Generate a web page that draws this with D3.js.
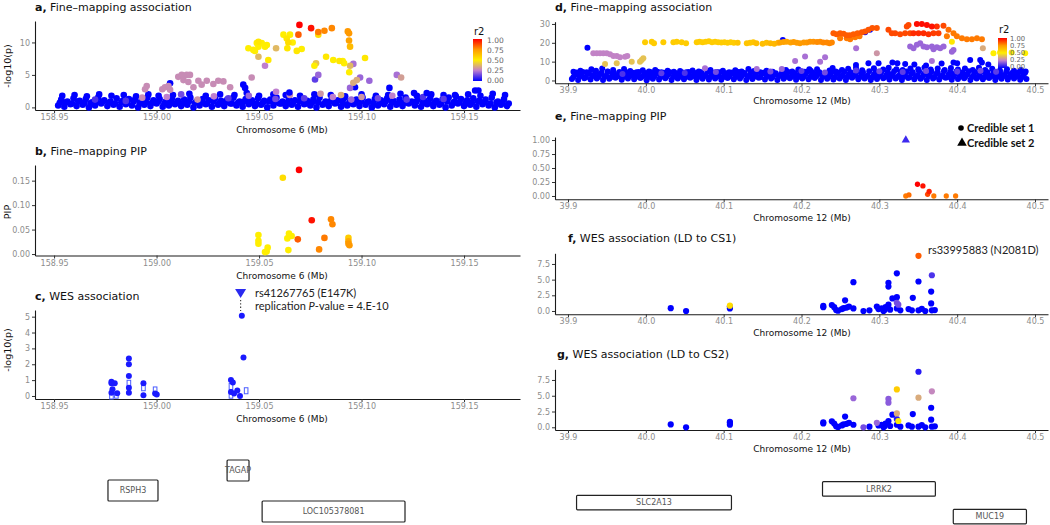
<!DOCTYPE html>
<html><head><meta charset="utf-8">
<script src="https://cdn.jsdelivr.net/npm/d3@7"></script>
<style>body{margin:0;background:#fff}svg{display:block}</style>
</head><body><svg id="c" width="1050" height="525"></svg>
<script>
// ---------------- DATA ----------------
const xTicks6 = [158.95, 159.00, 159.05, 159.10, 159.15];
const xTicks12 = [39.9, 40.0, 40.1, 40.2, 40.3, 40.4, 40.5];
const yTicksA = [0, 5, 10];
const yTicksB = [0, 0.05, 0.10, 0.15];
const yTicksC = [0, 1, 2, 3, 4, 5];
const yTicksD = [0, 10, 20, 30];
const yTicksE = [0, 0.25, 0.5, 0.75, 1];
const yTicksFG = [0, 2.5, 5, 7.5];
const legendTicks = [0, 0.25, 0.5, 0.75, 1];
const r2Stops = [0, 0.25, 0.5, 0.75, 1];
const r2Colors = ["#0000ff", "#bf7fce", "#ffee00", "#ff9900", "#ff0000"];

const panelTitles = [
  {id: "a,", text: "Fine–mapping association"},
  {id: "b,", text: "Fine–mapping PIP"},
  {id: "c,", text: "WES association"},
  {id: "d,", text: "Fine–mapping association"},
  {id: "e,", text: "Fine–mapping PIP"},
  {id: "f,", text: "WES association (LD to CS1)"},
  {id: "g,", text: "WES association (LD to CS2)"}
];
const xTitle6 = "Chromosome 6 (Mb)";
const xTitle12 = "Chromosome 12 (Mb)";

// panel a: dense background band (r2 ~ 0)  [pos, -log10p]
const bandA = [
[158.952,.3],[158.955,.1],[158.958,.5],[158.961,.2],[158.964,.4],[158.967,0],[158.970,.3],[158.973,.6],[158.976,.2],[158.979,.4],[158.982,.1],[158.985,.5],[158.988,.3],[158.991,0],[158.994,.4],[158.997,.2],[159.000,.6],[159.003,.1],[159.006,.3],[159.009,.5],[159.012,.2],[159.015,.4],[159.018,0],[159.021,.3],[159.024,.5],[159.027,.1],[159.030,.4],[159.033,.2],[159.036,.6],[159.039,.3],[159.042,.1],[159.045,.5],[159.048,.2],[159.051,.4],[159.054,0],[159.057,.3],[159.060,.6],[159.063,.2],[159.066,.4],[159.069,.1],[159.072,.5],[159.075,.3],[159.078,0],[159.081,.4],[159.084,.2],[159.087,.6],[159.090,.1],[159.093,.3],[159.096,.5],[159.099,.2],[159.102,.4],[159.105,0],[159.108,.3],[159.111,.5],[159.114,.1],[159.117,.4],[159.120,.2],[159.123,.6],[159.126,.3],[159.129,.1],[159.132,.5],[159.135,.2],[159.138,.4],[159.141,0],[159.144,.3],[159.147,.6],[159.150,.2],[159.153,.4],[159.156,.1],[159.159,.5],[159.162,.3],[159.165,0],[159.168,.4],[159.171,.2],
[158.9528,.7],[158.9558,.8],[158.9588,.6],[158.9618,.9],[158.9648,.7],[158.9678,.6],[158.9708,.8],[158.9738,.9],[158.9768,.7],[158.9798,.6],[158.9828,.8],[158.9858,.7],[158.9888,.9],[158.9918,.6],[158.9948,.8],[158.9978,.7],[159.0008,.9],[159.0038,.6],[159.0068,.8],[159.0098,.7],[159.0128,.6],[159.0158,.9],[159.0188,.7],[159.0218,.8],[159.0248,.6],[159.0278,.9],[159.0308,.7],[159.0338,.8],[159.0368,.6],[159.0398,.7],[159.0428,.9],[159.0458,.8],[159.0488,.6],[159.0518,.7],[159.0548,.9],[159.0578,.8],[159.0608,.6],[159.0638,.7],[159.0668,.8],[159.0698,.9],[159.0728,.6],[159.0758,.7],[159.0788,.8],[159.0818,.6],[159.0848,.9],[159.0878,.7],[159.0908,.8],[159.0938,.6],[159.0968,.7],[159.0998,.9],[159.1028,.8],[159.1058,.6],[159.1088,.7],[159.1118,.9],[159.1148,.8],[159.1178,.6],[159.1208,.7],[159.1238,.8],[159.1268,.9],[159.1298,.6],[159.1328,.7],[159.1358,.8],[159.1388,.6],[159.1418,.9],[159.1448,.7],[159.1478,.8],[159.1508,.6],[159.1538,.7],[159.1568,.9],[159.1598,.8],[159.1628,.6],[159.1658,.7],[159.1688,.8],[159.1718,.6],
[158.9535,1.2],[158.9565,.9],[158.9595,1.4],[158.9625,1.0],[158.9655,1.3],[158.9685,.8],[158.9715,1.5],[158.9745,1.1],[158.9775,.9],[158.9805,1.4],[158.9835,1.0],[158.9865,1.3],[158.9895,1.2],[158.9925,.9],[158.9955,1.5],[158.9985,1.1],[159.0015,1.3],[159.0045,.9],[159.0075,1.4],[159.0105,1.0],[159.0135,1.2],[159.0165,1.5],[159.0195,.9],[159.0225,1.3],[159.0255,1.1],[159.0285,1.4],[159.0315,1.0],[159.0345,1.2],[159.0375,1.5],[159.0405,.9],[159.0435,1.3],[159.0465,1.1],[159.0495,1.4],[159.0525,1.0],[159.0555,1.2],[159.0585,1.5],[159.0615,.9],[159.0645,1.3],[159.0675,1.1],[159.0705,1.4],[159.0735,1.0],[159.0765,1.2],[159.0795,1.5],[159.0825,.9],[159.0855,1.3],[159.0885,1.1],[159.0915,1.4],[159.0945,1.0],[159.0975,1.2],[159.1005,1.5],[159.1035,.9],[159.1065,1.3],[159.1095,1.1],[159.1125,1.4],[159.1155,1.0],[159.1185,1.2],[159.1215,1.5],[159.1245,.9],[159.1275,1.3],[159.1305,1.1],[159.1335,1.4],[159.1365,1.0],[159.1395,1.2],[159.1425,1.5],[159.1455,.9],[159.1485,1.3],[159.1515,1.1],[159.1545,1.4],[159.1575,1.0],[159.1605,1.2],[159.1635,1.5],[159.1665,.9],[159.1695,1.3],
[158.954,1.8],[158.960,1.9],[158.966,1.7],[158.972,2.0],[158.978,1.8],[158.984,1.9],[158.990,1.7],[158.996,2.0],[159.001,1.8],[159.008,1.9],[159.016,2.1],[159.024,1.8],[159.031,2.0],[159.038,1.9],[159.044,2.2],[159.050,1.8],[159.057,2.0],[159.063,1.9],[159.070,1.8],[159.077,2.0],[159.085,1.9],[159.092,1.7],[159.100,2.0],[159.107,1.8],[159.113,1.9],[159.119,2.1],[159.127,1.8],[159.134,2.0],[159.140,1.9],[159.146,1.7],[159.152,2.0],[159.158,1.8],[159.164,2.1],[159.170,1.9]
];
// panel a: band points with some LD  [pos, -log10p, r2]
const bandAPurple = [
[158.97,1.2,.1],[158.985,1.0,.1],[158.993,1.5,.28],[159.005,1.6,.25],[159.012,2.0,.15],[159.020,1.2,.3],[159.028,1.7,.25],[159.035,1.4,.12],[159.045,1.8,.2],[159.058,1.3,.15],[159.065,1.9,.28],[159.072,1.4,.12],[159.080,2.1,.3],[159.086,1.6,.25],[159.090,1.9,.35],[159.095,1.2,.2],[159.100,1.6,.3],[159.108,1.4,.15],[159.115,1.8,.25],[159.122,1.2,.12],[159.13,1.6,.1],[159.14,1.3,.12]
];
// panel a: lead signal  [pos, -log10p, r2]
const assocA = [
[159.0028,2.8,.28],[159.0041,3.1,.28],[159.0058,3.3,.28],[159.0066,2.7,.28],[159.0066,3.7,0],
[158.9952,3.3,.28],[158.9944,2.8,.28],
[159.0106,4.7,.28],[159.0123,5.0,.28],[159.0147,5.0,.28],[159.0163,5.0,.28],[159.0131,4.2,.28],[159.0155,3.9,.28],[159.018,3.1,.28],[159.0204,4.1,.28],[159.022,3.5,.28],[159.0245,4.1,.28],[159.0277,3.6,.28],[159.0301,4.1,.28],[159.0326,4.0,.28],[159.0359,3.1,.28],
[159.0423,3.5,0],[159.0432,3.0,0],[159.0464,4.6,.28],
[159.0448,9.1,.5],[159.048,8.7,.5],[159.0489,9.9,.5],[159.0497,10.1,.52],[159.0497,7.8,.38],
[159.0472,8.85,.5],[159.0497,9.35,.5],[159.0513,9.9,.5],[159.0529,9.35,.5],[159.0538,9.6,.5],[159.0545,7.3,.52],[159.0529,6.4,.25],[159.0583,9.1,.38],[159.0583,2.4,.25],
[159.0619,11.2,.5],[159.0635,10.6,.52],[159.0651,11.2,.5],[159.0643,10.0,.55],[159.0664,10.0,.5],[159.0638,9.1,.52],[159.0684,8.7,.52],[159.0708,9.0,.5],
[159.0692,11.2,.85],[159.0697,12.7,1.0],[159.0754,12.2,.97],[159.0789,11.6,.8],[159.0789,11.2,.55],[159.0819,11.8,.78],[159.0855,12.2,.78],[159.0933,11.7,.75],[159.0939,11.4,.75],[159.0939,10.3,.72],[159.0944,9.35,.65],
[159.1017,7.6,.52],[159.0827,7.8,.52],[159.0862,7.3,.5],[159.0892,7.15,.52],[159.0908,7.15,.5],[159.0915,6.8,.5],[159.0778,6.8,.4],[159.077,6.4,.5],[159.096,6.7,.22],[159.0944,6.4,.38],[159.094,5.4,.5],
[159.0789,5.0,.2],[159.0773,4.3,.12],[159.0993,4.6,.2],[159.0977,4.2,.35],[159.096,3.8,.35],[159.1038,4.1,.2],[159.0944,3.0,.2],[159.0968,3.1,0],
[159.1172,5.0,.22],[159.1193,4.6,.32],[159.1136,3.0,0],[159.0648,2.3,0],[159.1554,2.6,0],[159.157,2.6,0],[159.1456,1.9,0],[159.1318,2.2,0],[159.1256,2.2,0]
];
// panel b: PIP  [pos, PIP, r2]
const pipB = [
[159.0497,0.039,.5],[159.0497,0.027,.5],[159.0497,0.021,.5],[159.0529,0.004,.5],[159.0537,0.005,.5],[159.0542,0.013,.5],[159.0616,0.156,.55],[159.0638,0.032,.5],[159.0646,0.042,.5],[159.0659,0.037,.5],[159.0643,0.008,.5],[159.0695,0.172,1.0],[159.0689,0.030,.85],[159.0757,0.069,.97],[159.0793,0.0095,.78],[159.0819,0.033,.8],[159.0851,0.071,.78],[159.0858,0.061,.78],[159.0936,0.033,.6],[159.0936,0.026,.7],[159.0936,0.021,.75],[159.0941,0.018,.75]
];
// panel c: WES association  [pos, -log10p]
const wesC = [
[158.978,0.9],[158.978,0.8],[158.9785,0.42],[158.978,0.2],[158.9796,0.8],[158.9808,0.17],[158.9865,2.37],[158.9865,2.0],[158.9865,1.26],[158.9865,0.52],[158.9865,0.2],[158.9936,0.8],[158.9936,0.04],[158.9993,0.15],[159.0001,0.1],[159.0363,1.0],[159.0372,0.85],[159.0363,0.25],[159.0378,0.15],[159.0394,0.35],[159.0407,0.0],[159.0416,5.05],[159.0424,2.43]
];
const wesCOpen = [
[158.978,0.0],[158.9804,0.05],[158.9865,0.8],[158.9936,0.52],[158.9993,0.38],[159.0363,0.6],[159.0363,0.05],[159.0437,0.33]
];
const leadC = {pos: 159.041, label1: "rs41267765 (E147K)", label2a: "replication ", label2b: "P", label2c: "-value = 4.E-10"};

// panel d: dense background band (r2 ~ 0)  [pos, -log10p]
const bandD = [
[39.905,.8],[39.913,.3],[39.921,1.2],[39.929,.5],[39.937,1.0],[39.945,.2],[39.953,.9],[39.961,1.4],[39.969,.4],[39.977,1.1],[39.985,.6],[39.993,1.3],[40.001,.1],[40.009,.9],[40.017,.5],[40.025,1.2],[40.033,.3],[40.041,1.0],[40.049,.7],[40.057,1.4],[40.065,.2],[40.073,.9],[40.081,.5],[40.089,1.1],[40.097,.4],[40.105,1.3],[40.113,.6],[40.121,1.0],[40.129,.2],[40.137,.8],[40.145,1.4],[40.153,.5],[40.161,1.1],[40.169,.3],[40.177,.9],[40.185,1.2],[40.193,.4],[40.201,1.0],[40.209,.6],[40.217,1.3],[40.225,.2],[40.233,.9],[40.241,.5],[40.249,1.1],[40.257,.3],[40.265,1.4],[40.273,.7],[40.281,1.0],[40.289,.2],[40.297,.8],[40.305,1.2],[40.313,.5],[40.321,1.0],[40.329,.3],[40.337,1.3],[40.345,.6],[40.353,.9],[40.361,.2],[40.369,1.1],[40.377,.5],[40.385,1.4],[40.393,.4],[40.401,.8],[40.409,1.2],[40.417,.3],[40.425,1.0],[40.433,.6],[40.441,1.3],[40.449,.2],[40.457,.9],[40.465,.5],[40.473,1.1],[40.481,.4],[40.489,.8],
[39.907,1.9],[39.915,2.1],[39.923,1.7],[39.931,2.2],[39.939,1.8],[39.947,2.0],[39.955,1.7],[39.963,2.1],[39.971,1.9],[39.979,2.2],[39.987,1.8],[39.995,2.0],[40.003,1.7],[40.011,2.1],[40.019,1.9],[40.027,2.2],[40.035,1.8],[40.043,2.0],[40.051,1.7],[40.059,2.1],[40.067,1.9],[40.075,2.2],[40.083,1.8],[40.091,2.0],[40.099,1.7],[40.107,2.1],[40.115,1.9],[40.123,2.2],[40.131,1.8],[40.139,2.0],[40.147,1.7],[40.155,2.1],[40.163,1.9],[40.171,2.2],[40.179,1.8],[40.187,2.0],[40.195,1.7],[40.203,2.1],[40.211,1.9],[40.219,2.2],[40.227,1.8],[40.235,2.0],[40.243,1.7],[40.251,2.1],[40.259,1.9],[40.267,2.2],[40.275,1.8],[40.283,2.0],[40.291,1.7],[40.299,2.1],[40.307,1.9],[40.315,2.2],[40.323,1.8],[40.331,2.0],[40.339,1.7],[40.347,2.1],[40.355,1.9],[40.363,2.2],[40.371,1.8],[40.379,2.0],[40.387,1.7],[40.395,2.1],[40.403,1.9],[40.411,2.2],[40.419,1.8],[40.427,2.0],[40.435,1.7],[40.443,2.1],[40.451,1.9],[40.459,2.2],[40.467,1.8],[40.475,2.0],[40.483,1.7],
[39.909,3.0],[39.917,2.6],[39.925,3.5],[39.933,2.8],[39.941,3.3],[39.949,2.5],[39.957,3.6],[39.965,2.9],[39.973,3.2],[39.981,2.7],[39.989,3.4],[39.997,2.6],[40.005,3.1],[40.013,3.5],[40.021,2.8],[40.029,3.3],[40.037,2.5],[40.045,3.0],[40.053,3.6],[40.061,2.7],[40.069,3.2],[40.077,2.9],[40.085,3.4],[40.093,2.6],[40.101,3.1],[40.109,3.5],[40.117,2.8],[40.125,3.3],[40.133,2.6],[40.141,3.0],[40.149,3.6],[40.157,2.7],[40.165,3.2],[40.173,2.9],[40.181,3.4],[40.189,2.5],[40.197,3.1],[40.205,3.5],[40.213,2.8],[40.221,3.3],[40.229,2.6],[40.237,3.0],[40.245,3.6],[40.253,2.7],[40.261,3.2],[40.269,2.9],[40.277,3.4],[40.285,2.6],[40.293,3.1],[40.301,3.5],[40.309,2.8],[40.317,3.3],[40.325,2.5],[40.333,3.0],[40.341,3.6],[40.349,2.7],[40.357,3.2],[40.365,2.9],[40.373,3.4],[40.381,2.6],[40.389,3.1],[40.397,3.5],[40.405,2.8],[40.413,3.3],[40.421,2.6],[40.429,3.0],[40.437,3.6],[40.445,2.7],[40.453,3.2],[40.461,2.9],[40.469,3.4],[40.477,2.6],[40.485,3.1],
[39.911,4.2],[39.919,4.5],[39.927,4.0],[39.935,4.4],[39.943,4.1],[39.951,4.6],[39.959,4.2],[39.967,3.9],[39.975,4.4],[39.983,4.1],[39.991,4.5],[39.999,4.0],[40.007,4.3],[40.015,4.6],[40.023,4.1],[40.031,4.4],[40.039,3.9],[40.047,4.2],[40.055,4.5],[40.063,4.0],[40.071,4.3],[40.079,4.6],[40.087,4.1],[40.095,4.4],[40.103,3.9],[40.111,4.2],[40.119,4.5],[40.127,4.0],[40.135,4.3],[40.143,4.6],[40.151,4.1],[40.159,4.4],[40.167,3.9],[40.175,4.2],[40.183,4.5],[40.191,4.0],[40.199,4.3],[40.207,4.6],[40.215,4.1],[40.223,4.4],[40.231,4.0],[40.239,4.5],[40.247,4.2],[40.255,4.6],[40.263,4.3],[40.271,4.8],[40.279,4.4],[40.287,4.9],[40.295,4.5],[40.303,4.8],[40.311,4.4],[40.319,4.9],[40.327,4.5],[40.335,4.7],[40.343,4.4],[40.351,4.9],[40.359,4.6],[40.367,4.8],[40.375,4.4],[40.383,4.9],[40.391,4.5],[40.399,4.8],[40.407,4.4],[40.415,4.9],[40.423,4.5],[40.431,4.7],[40.439,4.3],[40.447,4.6],[40.455,4.2],[40.463,4.5],[40.471,4.1],[40.479,4.4],[40.487,4.0],
[39.907,4.6],[39.916,5.2],[39.924,4.4],[39.93,6.0],[39.936,5.1],[39.944,6.3],[39.951,4.8],[39.958,5.6],[39.966,4.5],[39.972,6.1],[39.98,5.0],[39.988,4.3],[39.996,5.4],[40.004,4.7],[40.012,5.5],[40.02,4.4],[40.028,5.2],[40.036,4.6],[40.044,5.0],[40.052,4.3],[40.06,5.3],[40.068,4.8],[40.083,5.6],[40.091,4.5],[40.099,5.1],[40.107,4.4],[40.115,5.4],[40.123,4.7],[40.139,5.0],[40.147,4.4],[40.155,5.2],[40.163,4.6],[40.18,5.5],[40.188,4.8],[40.196,5.8],[40.204,4.6],[40.212,5.2],[40.22,6.0],[40.236,5.3],[40.244,4.7],[40.252,5.6],[40.26,6.2],[40.27,6.6],[40.278,5.4],[40.293,6.5],[40.305,5.8],[40.312,6.8],[40.322,6.0],[40.33,5.6],[40.34,6.4],[40.35,5.9],[40.358,6.9],[40.366,5.8],[40.375,6.3],[40.384,5.5],[40.392,6.6],[40.401,5.8],[40.41,6.4],[40.42,5.6],[40.428,6.8],[40.436,5.6],[40.445,6.2],[40.455,5.3],[40.464,5.9],[40.473,5.1],[40.482,5.6],[40.488,4.8],
[39.925,17.4],[40.176,21.5],[40.2817,25.6],[40.288,26.9],[40.1318,6.1],[40.286,9.1],[40.299,9.1],[40.3168,9.5],[40.3232,9.1],[40.3332,8.8],[40.3953,9.5],[40.4167,10.9],[40.4296,10.9],[40.4318,9.5],[40.40,9.1],[40.24,6.6],[40.21,6.0],[40.36,8.0],[40.345,8.5],[40.27,8.2],[40.38,9.0],[40.44,8.5]
];
// panel d: points with LD  [pos, -log10p, r2]
const assocD = [
[40.076,6.5,.22],[40.1425,6.1,.22],[40.1747,6.1,.2],[40.09,4.5,.15],[40.16,4.8,.15],[40.2,5.0,.12],[40.23,4.2,.15],[40.27,5.3,.12],[40.3,4.9,.15],[40.33,4.5,.12],[40.36,5.0,.15],[40.4,4.8,.12],[40.43,5.2,.15],[40.45,4.6,.12],[40.05,4.0,.1],[40.02,3.8,.12],[39.97,3.5,.1],
[39.9325,14.5,.26],[39.9369,14.5,.26],[39.9411,14.5,.26],[39.9454,14.5,.26],[39.9497,14.5,.26],[39.954,13.9,.26],[39.9583,13.0,.26],[39.9626,13.0,.26],[39.9668,12.3,.26],[39.9733,12.6,.26],[39.9762,13.0,.26],
[39.9476,8.8,.4],[39.9626,9.1,.4],[39.9819,10.0,.4],[39.9925,10.0,.4],[39.9947,10.9,.4],[39.9968,11.8,.4],
[39.999,20.3,.6],[40.0076,20.6,.6],[40.0105,19.8,.6],[40.0225,20.3,.6],[40.0354,20.3,.6],[40.0397,20.6,.6],[40.046,20.3,.6],[40.0517,19.8,.6],[40.0654,20.3,.6],[40.069,20.6,.6],[40.073,20.3,.6],[40.077,20.6,.6],[40.081,20.8,.6],[40.085,20.3,.6],[40.089,20.6,.6],[40.093,20.3,.6],[40.097,20.1,.6],[40.101,20.3,.6],[40.105,20.0,.6],[40.109,20.3,.6],[40.113,20.0,.6],[40.118,20.0,.62],[40.1297,19.8,.62],[40.134,20.0,.62],[40.138,20.3,.62],[40.142,19.8,.64],[40.15,19.5,.64],[40.155,20.0,.64],[40.16,19.8,.66],[40.165,19.5,.66],[40.17,20.0,.68],
[40.1725,20.1,.72],[40.177,20.4,.72],[40.181,20.6,.72],[40.186,20.2,.72],[40.19,20.4,.74],[40.194,20.0,.74],[40.198,19.8,.74],[40.203,20.2,.75],[40.2068,20.1,.75],[40.211,20.6,.76],[40.2153,20.6,.76],[40.22,20.4,.77],[40.2239,20.6,.77],[40.228,20.1,.78],[40.2325,20.1,.78],[40.236,19.8,.78],[40.239,20.1,.78],
[40.241,25.1,.85],[40.245,24.5,.85],[40.2496,25.1,.85],[40.254,24.8,.85],[40.258,24.0,.85],[40.262,24.0,.85],[40.2668,24.5,.85],[40.272,25.1,.85],[40.2775,25.6,.86],[40.2817,26.0,.86],[40.286,26.9,.86],[40.291,27.8,.86],[40.2968,27.8,.86],
[40.2496,22.4,.8],[40.2582,22.4,.8],[40.2625,21.9,.8],[40.2689,23.0,.8],[40.2745,23.5,.8],
[40.3117,26.9,.88],[40.316,25.1,.88],[40.3203,25.1,.88],[40.3267,24.6,.88],[40.3331,25.1,.88],[40.3353,28.7,.88],[40.3375,29.5,.88],[40.3396,25.1,.88],
[40.3482,30.0,.98],[40.3546,30.0,.98],[40.3611,29.5,.98],[40.3675,28.6,.97],[40.3739,28.6,.92],[40.3824,29.0,.88],
[40.3439,25.1,.93],[40.3503,25.1,.93],[40.3568,25.1,.93],[40.3632,24.6,.92],[40.3696,25.1,.9],[40.376,25.1,.9],
[40.3868,23.5,.8],[40.3889,26.9,.82],[40.3953,25.1,.8],[40.3996,23.5,.8],[40.4061,22.4,.8],[40.4125,21.9,.8],[40.4189,21.9,.8],[40.4254,22.4,.8],[40.4318,21.9,.8],
[40.3932,20.6,.52],
[40.3396,18.0,.2],[40.3439,17.1,.2],[40.3482,18.9,.2],[40.3525,19.8,.2],[40.3568,18.0,.2],[40.3611,17.6,.2],[40.3675,18.0,.2],[40.3696,16.6,.2],[40.3739,17.6,.2],[40.3782,17.1,.2],[40.3825,18.0,.2],[40.3932,15.3,.2],[40.3953,16.2,.2],
[40.1918,10.4,.22],[40.2046,12.7,.22],[40.2239,10.0,.22],[40.2303,12.3,.22],[40.2702,17.1,.22],[40.2968,14.5,.3],[40.3675,10.4,.22],[40.433,17.1,.35],
[40.4466,14.5,.5],[40.455,14.8,.5],[40.47,14.8,.5],[40.4874,14.5,.5]
];
// panel e: PIP  [pos, PIP, r2, credible set]
const pipE = [
[40.334,0.0,.8,1],[40.338,0.02,.82,1],[40.37,0.0,.8,1],[40.386,0.0,.8,1],[40.398,0.0,.8,1],[40.362,0.03,.88,1],[40.364,0.08,.95,1],[40.356,0.18,.97,1],[40.349,0.21,1.0,1],[40.334,1.0,.08,2]
];
// panels f/g: WES association  [pos, -log10p, r2 to CS1, r2 to CS2]
const wes12 = [
[40.032,0.45,0,0],[40.0517,0,0,0],[40.108,0.85,0.55,0],[40.108,0.7,0,0],[40.108,0.4,0,0],
[40.228,0.8,0,0],[40.228,0.6,0,0],[40.239,0.95,0,0],[40.242,0.6,0,0],[40.2445,0.15,0,0],[40.247,0.05,0,0],[40.2518,0.3,0,0],[40.254,0.45,0,0],[40.256,1.7,0,0],[40.258,0.55,0,0],[40.261,0.7,0,0],
[40.2667,4.6,0,0.2],[40.2667,0.4,0,0],[40.2796,0,0,0.15],[40.2873,0.1,0,0],
[40.2968,0.7,0,0.2],[40.2989,0.3,0,0],[40.303,0.4,0,0],[40.3054,0,0,0],[40.307,0.2,0,0],[40.308,0.6,0,0],[40.3117,1.0,0,0],
[40.3117,4.5,0,0.18],[40.3117,3.9,0,0.18],[40.3139,0.2,0,0],[40.3168,2.0,0,0],
[40.3225,6.0,0,0.6],[40.3225,2.2,0,0.35],[40.3225,1.3,0.15,0.05],[40.3244,1.0,0.15,0.5],[40.3225,0.4,0,0],[40.327,0.1,0,0],
[40.3375,0.3,0,0],[40.3418,0.1,0,0],[40.343,2.1,0,0],
[40.3503,8.8,0.85,0.05],[40.3503,4.7,0,0.35],[40.3503,0.1,0,0],[40.3546,0.35,0,0],[40.359,0,0,0],
[40.3666,3.1,0,0],[40.3666,1.2,0,0],[40.3675,5.7,0.1,0.27],[40.3675,0.1,0,0],[40.3713,0.15,0,0]
];
const leadF = {pos: 40.3503, label: "rs33995883 (N2081D)"};
const credibleLabels = ["Credible set 1", "Credible set 2"];

// genes  [name, start Mb, end Mb, row]
const genes6 = [["TAGAP",159.0344,159.0451,0],["RSPH3",158.9763,159.0007,1],["LOC105378081",159.0515,159.1212,2]];
const genes12 = [["LRRK2",40.227,40.372,0],["SLC2A13",39.911,40.110,1],["MUC19",40.395,40.489,2]];

// ---------------- DRAW ----------------
const svg = d3.select("#c");
const FONT = "'DejaVu Sans', sans-serif";
const ANN = "Lato, 'Open Sans', sans-serif";
const r2Color = d3.scaleLinear().domain(r2Stops).range(r2Colors).clamp(true);

function makePanel(p) {
  const x = d3.scaleLinear().domain(p.xdom).range(p.xr);
  const y = d3.scaleLinear().domain(p.ydom).range(p.yr);
  const g = svg.append("g");
  const ax = g.append("g").attr("transform", `translate(0,${p.yr[0]})`)
    .call(d3.axisBottom(x).tickValues(p.xticks).tickSize(3).tickSizeOuter(0).tickPadding(1.5).tickFormat(d3.format(p.xfmt)));
  const ay = g.append("g").attr("transform", `translate(${p.xr[0]},0)`)
    .call(d3.axisLeft(y).tickValues(p.yticks).tickSize(3).tickSizeOuter(0).tickPadding(2).tickFormat(d3.format(p.yfmt)));
  [ax, ay].forEach(a => {
    a.select(".domain").attr("stroke", "#1a1a1a").attr("stroke-width", 1.1);
    a.selectAll(".tick line").attr("stroke", "#333");
    a.selectAll(".tick text").attr("fill", "#8c8c8c").attr("font-size", 8).attr("font-family", FONT);
  });
  const pg = g.append("g");
  return {x, y, g: pg};
}
function title(t, x, yb) {
  const tx = svg.append("text").attr("x", x).attr("y", yb).attr("font-family", FONT).attr("font-size", 11).attr("fill", "#111");
  tx.append("tspan").attr("font-weight", "bold").text(t.id);
  tx.append("tspan").text(" " + t.text);
}
function xTitle(t, cx, yb) {
  svg.append("text").attr("x", cx).attr("y", yb).attr("text-anchor", "middle").attr("font-family", FONT).attr("font-size", 9).attr("fill", "#111").text(t);
}
function yTitle(t, x, cy) {
  svg.append("text").attr("transform", `translate(${x},${cy}) rotate(-90)`).attr("text-anchor", "middle").attr("font-family", FONT).attr("font-size", 9.5).attr("fill", "#111").text(t);
}
function dots(P, data, r, col) {
  P.g.append("g").selectAll("circle").data(data).join("circle")
    .attr("cx", d => P.x(d[0])).attr("cy", d => P.y(d[1])).attr("r", r).attr("fill", col);
}
function legend(x0, y0, h, lx, ty, fs) {
  const id = "grad" + x0;
  const grad = svg.append("defs").append("linearGradient").attr("id", id).attr("x1", 0).attr("x2", 0).attr("y1", 1).attr("y2", 0);
  d3.range(0, 1.0001, 0.05).forEach(t => grad.append("stop").attr("offset", t).attr("stop-color", r2Color(t)));
  svg.append("text").attr("x", x0 + 1).attr("y", ty).attr("font-family", FONT).attr("font-size", 10).attr("fill", "#111").text("r2");
  svg.append("rect").attr("x", x0).attr("y", y0 - 1).attr("width", 9).attr("height", h + 2).attr("fill", `url(#${id})`);
  const ls = d3.scaleLinear().domain([0, 1]).range([y0 + h, y0]);
  svg.append("g").selectAll("text").data(legendTicks).join("text")
    .attr("x", lx).attr("y", d => ls(d)).attr("dy", "0.35em").attr("font-family", FONT).attr("font-size", fs).attr("fill", "#666")
    .text(d => d3.format(".2f")(d));
}
function genes(list, x, rows, h) {
  const g = svg.append("g");
  list.forEach(gn => {
    const x0 = x(gn[1]), x1 = x(gn[2]), y0 = rows[gn[3]];
    g.append("rect").attr("x", x0).attr("y", y0).attr("width", x1 - x0).attr("height", h).attr("rx", 1)
      .attr("fill", "#fff").attr("stroke", "#222").attr("stroke-width", 1.2);
    g.append("text").attr("x", (x0 + x1) / 2).attr("y", y0 + h / 2).attr("dy", "0.35em").attr("text-anchor", "middle")
      .attr("font-family", FONT).attr("font-size", 8).attr("fill", "#555").text(gn[0]);
  });
}
const byR2 = (a, b) => a[2] - b[2];

// ---- Panel a
const xd6 = [158.9407, 159.1773];
const A = makePanel({xdom: xd6, xr: [35, 520], ydom: [-0.4, 13.3], yr: [110, 21], xticks: xTicks6, yticks: yTicksA, xfmt: ".2f", yfmt: "d"});
dots(A, bandA, 3.3, "#0000ff");
dots(A, bandAPurple.slice().sort(byR2), 3.3, d => r2Color(d[2]));
dots(A, assocA.slice().sort(byR2), 3.3, d => r2Color(d[2]));
title(panelTitles[0], 35, 11);
xTitle(xTitle6, 282, 133);
yTitle("-log10(p)", 10.5, 66);
legend(473, 40, 40, 487, 35, 7.5);

// ---- Panel b
const B = makePanel({xdom: xd6, xr: [35, 520], ydom: [-0.003, 0.182], yr: [255.5, 165], xticks: xTicks6, yticks: yTicksB, xfmt: ".2f", yfmt: ".2f"});
dots(B, pipB.slice().sort(byR2), 3.3, d => r2Color(d[2]));
title(panelTitles[1], 35, 155);
xTitle(xTitle6, 282, 279);
yTitle("PIP", 10.5, 212);

// ---- Panel c
const C = makePanel({xdom: xd6, xr: [35, 520], ydom: [-0.19, 5.42], yr: [399, 310], xticks: xTicks6, yticks: yTicksC, xfmt: ".2f", yfmt: "d"});
C.g.append("g").selectAll("rect").data(wesCOpen).join("rect")
  .attr("x", d => C.x(d[0]) - 1.8).attr("y", d => C.y(d[1]) - 3).attr("width", 3.6).attr("height", 6)
  .attr("fill", "#fff").attr("stroke", "#4a5cff").attr("stroke-width", 1);
dots(C, wesC, 3, "#1a1aff");
title(panelTitles[2], 35, 299.5);
xTitle(xTitle6, 282, 422);
yTitle("-log10(p)", 10.5, 350);
{
  const lx = C.x(leadC.pos);
  svg.append("path").attr("d", `M${lx - 5.5},289 L${lx + 5.5},289 L${lx},298 Z`).attr("fill", "#2a2af0");
  svg.append("line").attr("x1", lx).attr("x2", lx).attr("y1", 300).attr("y2", 311).attr("stroke", "#444").attr("stroke-width", 1.2).attr("stroke-dasharray", "1.3,2");
  svg.append("text").attr("x", 255).attr("y", 297).attr("font-family", ANN).attr("font-size", 11).attr("fill", "#222").text(leadC.label1);
  const t2 = svg.append("text").attr("x", 255).attr("y", 310).attr("font-family", ANN).attr("font-size", 11).attr("fill", "#222");
  t2.append("tspan").text(leadC.label2a);
  t2.append("tspan").attr("font-style", "italic").text(leadC.label2b);
  t2.append("tspan").text(leadC.label2c);
}
genes(genes6, A.x, [460, 480, 501], 21);

// ---- Panel d
const xd12 = [39.8833, 40.5167];
const D = makePanel({xdom: xd12, xr: [555, 1048], ydom: [-1.5, 31.2], yr: [83.3, 21.7], xticks: xTicks12, yticks: yTicksD, xfmt: ".1f", yfmt: "d"});
dots(D, bandD, 3, "#0000ff");
dots(D, assocD.slice().sort(byR2), 3, d => r2Color(d[2]));
title(panelTitles[3], 555, 11);
xTitle(xTitle12, 802, 104);
legend(998, 39, 28, 1010, 33, 6.8);

// ---- Panel e
const E = makePanel({xdom: xd12, xr: [555, 1048], ydom: [-0.059, 1.054], yr: [199.3, 137], xticks: xTicks12, yticks: yTicksE, xfmt: ".1f", yfmt: ".2f"});
E.g.selectAll("path.pt").data(pipE).join("path")
  .attr("transform", d => `translate(${E.x(d[0])},${E.y(d[1])})`)
  .attr("d", d => d3.symbol().type(d[3] === 1 ? d3.symbolCircle : d3.symbolTriangle).size(d[3] === 1 ? 22 : 30)())
  .attr("fill", d => r2Color(d[2]));
title(panelTitles[4], 555, 120);
xTitle(xTitle12, 802, 221);
svg.append("circle").attr("cx", 961).attr("cy", 128).attr("r", 2.8).attr("fill", "#000");
svg.append("path").attr("transform", "translate(962,143)").attr("d", d3.symbol().type(d3.symbolTriangle).size(40)()).attr("fill", "#000");
svg.append("text").attr("x", 967).attr("y", 132).attr("font-family", ANN).attr("font-weight", "bold").attr("font-size", 11).attr("fill", "#111").text(credibleLabels[0]);
svg.append("text").attr("x", 967).attr("y", 147).attr("font-family", ANN).attr("font-weight", "bold").attr("font-size", 11).attr("fill", "#111").text(credibleLabels[1]);

// ---- Panel f
const F = makePanel({xdom: xd12, xr: [555, 1048], ydom: [-0.53, 9.2], yr: [314.3, 253.3], xticks: xTicks12, yticks: yTicksFG, xfmt: ".1f", yfmt: ".1f"});
dots(F, wes12.slice().sort((a, b) => a[2] - b[2]), 3.1, d => r2Color(d[2]));
title(panelTitles[5], 568, 241.5);
xTitle(xTitle12, 802, 336);
svg.append("text").attr("x", 928).attr("y", 254).attr("font-family", ANN).attr("font-size", 11).attr("fill", "#222").text(leadF.label);

// ---- Panel g
const G = makePanel({xdom: xd12, xr: [555, 1048], ydom: [-0.43, 9.19], yr: [430, 369.3], xticks: xTicks12, yticks: yTicksFG, xfmt: ".1f", yfmt: ".1f"});
dots(G, wes12.slice().sort((a, b) => a[3] - b[3]), 3.1, d => r2Color(d[3]));
title(panelTitles[6], 557, 358);
xTitle(xTitle12, 802, 452);
genes(genes12, D.x, [481.7, 495.3, 509.3], 14.5);
</script></body></html>
